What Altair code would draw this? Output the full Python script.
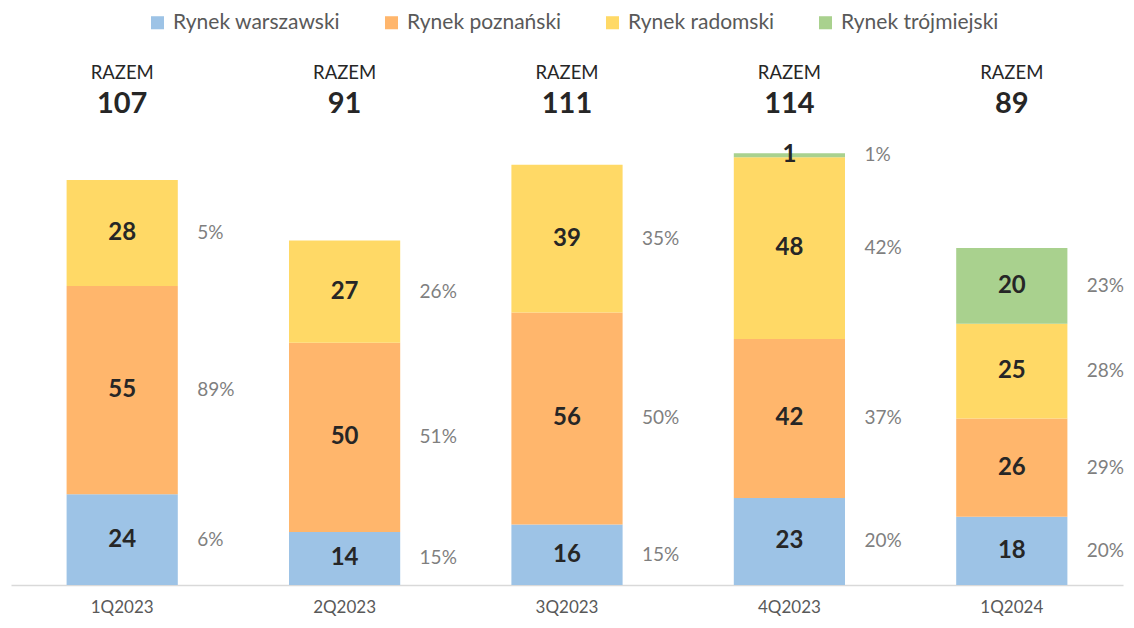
import altair as alt
import pandas as pd

categories = ["1Q2023", "2Q2023", "3Q2023", "4Q2023", "1Q2024"]
series = ["Rynek warszawski", "Rynek poznański", "Rynek radomski", "Rynek trójmiejski"]
warszawski = [24, 14, 16, 23, 18]
poznanski = [55, 50, 56, 42, 26]
radomski = [28, 27, 39, 48, 25]
trojmiejski = [0, 0, 0, 1, 20]
warszawski_pct = ["6%", "15%", "15%", "20%", "20%"]
poznanski_pct = ["89%", "51%", "50%", "37%", "29%"]
radomski_pct = ["5%", "26%", "35%", "42%", "28%"]
trojmiejski_pct = ["", "", "", "1%", "23%"]
totals = [107, 91, 111, 114, 89]
colors = ["#9DC3E6", "#FFB66C", "#FFD966", "#A9D18E"]

FONT = "Lato"

rows = []
vals = [warszawski, poznanski, radomski, trojmiejski]
pcts = [warszawski_pct, poznanski_pct, radomski_pct, trojmiejski_pct]
for ci, cat in enumerate(categories):
    base = 0
    for si, s in enumerate(series):
        v = vals[si][ci]
        if v > 0:
            rows.append({"cat": cat, "series": s, "order": si, "v": v,
                         "y0": base, "y1": base + v, "mid": base + v / 2,
                         "pct": pcts[si][ci]})
        base += v
df = pd.DataFrame(rows)
tot = pd.DataFrame({"cat": categories, "total": totals, "label": ["RAZEM"] * 5})

xenc = alt.X("cat:N", sort=categories, title=None,
             scale=alt.Scale(paddingInner=0.5, paddingOuter=0.25),
             axis=alt.Axis(labelAngle=0, labelFont=FONT, labelFontSize=17,
                           labelFontWeight="normal",
                           labelColor="#595959", ticks=False, labelPadding=14,
                           domainColor="#D9D9D9", domainWidth=1.5))
yscale = alt.Scale(domain=[0, 145], nice=False)

bars = alt.Chart(df).mark_bar().encode(
    x=xenc,
    y=alt.Y("y0:Q", scale=yscale, axis=None),
    y2="y1:Q",
    color=alt.Color("series:N", sort=series,
                    scale=alt.Scale(domain=series, range=colors),
                    legend=alt.Legend(title=None, orient="none", direction="horizontal",
                                      legendX=136, legendY=-24, symbolType="square",
                                      symbolSize=170, symbolStrokeWidth=0,
                                      labelFont=FONT, labelFontSize=21,
                                      labelLimit=300,
                                      labelColor="#595959", columnPadding=40,
                                      labelOffset=5)),
    order="order:Q",
)

vlabels = alt.Chart(df).mark_text(font=FONT, fontSize=24, fontWeight="bold",
                                  color="#262626", baseline="middle").encode(
    x=alt.X("cat:N", sort=categories),
    y=alt.Y("mid:Q", scale=yscale),
    text="v:Q",
)

plabels = alt.Chart(df).mark_text(font=FONT, fontSize=19, color="#7F7F7F",
                                  align="left", baseline="middle", dx=75).encode(
    x=alt.X("cat:N", sort=categories),
    y=alt.Y("mid:Q", scale=yscale),
    text="pct:N",
)

razem = alt.Chart(tot).mark_text(font=FONT, fontSize=18.5, color="#262626",
                                 baseline="middle").encode(
    x=alt.X("cat:N", sort=categories),
    y=alt.value(37),
    text="label:N",
)
totnum = alt.Chart(tot).mark_text(font=FONT, fontSize=29, fontWeight="bold",
                                  color="#262626", baseline="middle").encode(
    x=alt.X("cat:N", sort=categories),
    y=alt.value(68),
    text="total:Q",
)

chart = alt.layer(bars, vlabels, plabels, razem, totnum).properties(
    width=1112, height=549,
    padding={"left": 3, "top": 28, "right": 3, "bottom": 33},
    autosize=alt.AutoSizeParams(type="none"),
).configure_view(stroke=None)

chart.save("out.html", embed_options={"renderer": "svg", "actions": False})
